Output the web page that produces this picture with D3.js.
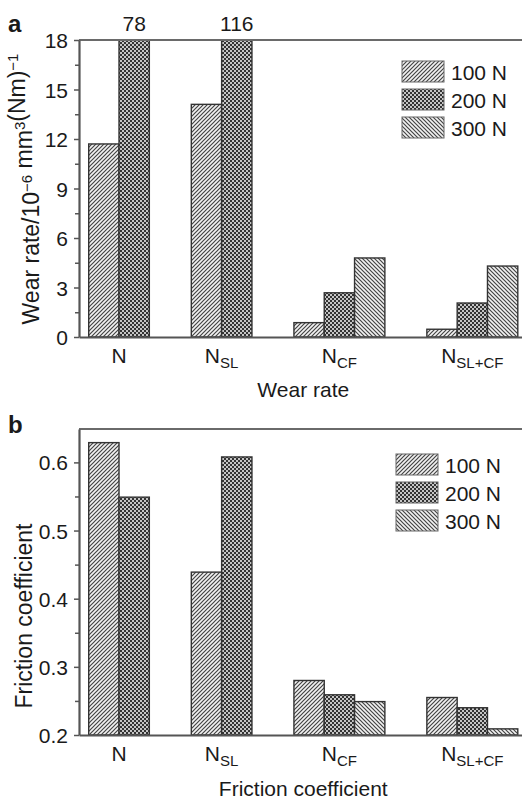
<!DOCTYPE html>
<html>
<head>
<meta charset="utf-8">
<script src="https://cdn.jsdelivr.net/npm/d3@7"></script>
<style>
  body { margin: 0; background: #fff; }
  svg { display: block; }
  text { font-family: "Liberation Sans", Arial, Helvetica, sans-serif; fill: #1a1a1a; }
</style>
</head>
<body>
<div id="chart"></div>
<script>
// categories (main letter + subscript)
var catMain = ["N", "N", "N", "N"];
var catSub = ["", "SL", "CF", "SL+CF"];
var seriesNames = ["100 N", "200 N", "300 N"];

// wear rate, 10^-6 mm3 (Nm)^-1  (null = no bar)
var wear100 = [11.7, 14.1, 0.87, 0.47];
var wear200 = [78, 116, 2.68, 2.06];
var wear300 = [null, null, 4.79, 4.3];

// friction coefficient
var fric100 = [0.629, 0.439, 0.28, 0.255];
var fric200 = [0.549, 0.608, 0.259, 0.24];
var fric300 = [null, null, 0.249, 0.209];

var wearTicks = [0, 3, 6, 9, 12, 15, 18];
var fricTicks = [0.2, 0.3, 0.4, 0.5, 0.6];

var W = 522, H = 802;
var svg = d3.select("#chart").append("svg")
    .attr("width", W)
    .attr("height", H);

// patterns
var defs = svg.append("defs");
var p1 = defs.append("pattern").attr("id", "pat0")
    .attr("patternUnits", "userSpaceOnUse").attr("width", 4).attr("height", 4);
p1.append("rect").attr("width", 4).attr("height", 4).attr("fill", "#f2f2f2");
p1.append("path").attr("d", "M-1,1 L1,-1 M0,4 L4,0 M3,5 L5,3")
    .attr("stroke", "#444").attr("stroke-width", 1.2);

var p2 = defs.append("pattern").attr("id", "pat1")
    .attr("patternUnits", "userSpaceOnUse").attr("width", 4).attr("height", 4);
p2.append("rect").attr("width", 4).attr("height", 4).attr("fill", "#333");
p2.append("rect").attr("x", 0.1).attr("y", 0.1).attr("width", 1.8).attr("height", 1.8).attr("fill", "#e8e8e8");
p2.append("rect").attr("x", 2.1).attr("y", 2.1).attr("width", 1.8).attr("height", 1.8).attr("fill", "#e8e8e8");

var p3 = defs.append("pattern").attr("id", "pat2")
    .attr("patternUnits", "userSpaceOnUse").attr("width", 4).attr("height", 4);
p3.append("rect").attr("width", 4).attr("height", 4).attr("fill", "#f2f2f2");
p3.append("path").attr("d", "M-1,3 L1,5 M0,0 L4,4 M3,-1 L5,1")
    .attr("stroke", "#444").attr("stroke-width", 1.2);

// x layout: groups of bars with a fixed gap, only bars with data take a slot
var leftPad = 0.32, gapU = 1.385;
var counts = catMain.map(function (c, i) {
    return [wear100[i], wear200[i], wear300[i]].filter(function (v) { return v != null; }).length;
});
var groupStart = [];
var u = leftPad;
counts.forEach(function (n, i) {
    groupStart.push(u);
    u += n + (i < counts.length - 1 ? gapU : 0);
});
var totalU = u + leftPad;

var plotLeft = 79, plotRight = 527.5;
var x = d3.scaleLinear().domain([0, totalU]).range([plotLeft, plotRight]);

function drawPanel(opt) {
    var g = svg.append("g");
    var y = d3.scaleLinear().domain(opt.domain).range([opt.bottom, opt.top]);
    var series = opt.series;

    // bars
    series.forEach(function (vals, s) {
        g.selectAll(null)
            .data(vals.map(function (v, i) { return {v: v, i: i}; })
                .filter(function (d) { return d.v != null; }))
            .enter().append("rect")
            .attr("x", function (d) { return x(groupStart[d.i] + s); })
            .attr("width", x(1) - x(0))
            .attr("y", function (d) { return y(Math.min(d.v, opt.domain[1])); })
            .attr("height", function (d) { return y(opt.domain[0]) - y(Math.min(d.v, opt.domain[1])); })
            .attr("fill", "url(#pat" + s + ")")
            .attr("stroke", "#333")
            .attr("stroke-width", 1.4);
    });

    // clipped values shown on top
    series.forEach(function (vals, s) {
        vals.forEach(function (v, i) {
            if (v != null && v > opt.domain[1]) {
                g.append("text")
                    .attr("x", x(groupStart[i] + s + 0.5))
                    .attr("y", opt.top - 9)
                    .attr("text-anchor", "middle")
                    .attr("font-size", 21)
                    .text(v);
            }
        });
    });

    // top frame line
    g.append("line")
        .attr("x1", plotLeft).attr("x2", plotRight)
        .attr("y1", opt.top).attr("y2", opt.top)
        .attr("stroke", "#6a6a6a").attr("stroke-width", 2);

    // minor ticks
    var minor = [];
    for (var k = 0; k < opt.ticks.length - 1; k++) minor.push((opt.ticks[k] + opt.ticks[k + 1]) / 2);
    g.append("g")
        .attr("transform", "translate(" + plotLeft + ",0)")
        .call(d3.axisLeft(y).tickValues(minor).tickSize(4).tickSizeOuter(0).tickFormat(""))
        .call(function (a) { a.select(".domain").remove(); a.selectAll("line").attr("stroke", "#555").attr("stroke-width", 1.5); });

    // y axis
    var yAxis = g.append("g")
        .attr("transform", "translate(" + plotLeft + ",0)")
        .call(d3.axisLeft(y).tickValues(opt.ticks).tickSize(5).tickSizeOuter(0).tickPadding(6)
            .tickFormat(opt.fmt));
    yAxis.select(".domain").attr("stroke", "#555").attr("stroke-width", 2.2);
    yAxis.selectAll(".tick line").attr("stroke", "#555").attr("stroke-width", 1.5);
    yAxis.selectAll(".tick text")
        .attr("font-size", 21)
        .attr("font-family", "Liberation Sans, Arial, sans-serif")
        .attr("fill", "#1a1a1a")
        .attr("dy", "0.36em");

    // x axis line
    var xAxis = g.append("g")
        .attr("transform", "translate(0," + opt.bottom + ")")
        .call(d3.axisBottom(x).tickValues([]).tickSizeOuter(0));
    xAxis.select(".domain").attr("stroke", "#555").attr("stroke-width", 2.2);

    // category labels
    catMain.forEach(function (c, i) {
        var t = g.append("text")
            .attr("x", x(groupStart[i] + counts[i] / 2))
            .attr("y", opt.bottom + 26)
            .attr("text-anchor", "middle")
            .attr("font-size", 21);
        t.append("tspan").text(c);
        if (catSub[i]) {
            t.append("tspan").attr("dy", 5).attr("font-size", 15).text(catSub[i]);
        }
    });

    // x title
    g.append("text")
        .attr("x", (plotLeft + plotRight) / 2)
        .attr("y", opt.xTitleY)
        .attr("text-anchor", "middle")
        .attr("font-size", 21)
        .text(opt.xTitle);

    // y title
    var yt = g.append("text")
        .attr("transform", "translate(" + opt.yTitleX + "," + opt.yTitleY + ") rotate(-90)")
        .attr("text-anchor", "middle")
        .attr("font-size", 23);
    opt.yTitle.forEach(function (part) {
        if (part.sup) {
            yt.append("tspan").attr("dy", -7).attr("font-size", 15).text(part.t);
            yt.append("tspan").attr("dy", 7).text("");
        } else {
            yt.append("tspan").text(part.t);
        }
    });

    // panel letter
    g.append("text")
        .attr("x", 8)
        .attr("y", opt.letterY)
        .attr("font-size", 24)
        .attr("font-weight", "bold")
        .text(opt.letter);

    // legend
    var leg = g.append("g");
    seriesNames.forEach(function (name, s) {
        leg.append("rect")
            .attr("x", opt.legX)
            .attr("y", opt.legY + s * 28)
            .attr("width", 42).attr("height", 21)
            .attr("fill", "url(#pat" + s + ")")
            .attr("stroke", "#666").attr("stroke-width", 1);
        leg.append("text")
            .attr("x", opt.legX + 49)
            .attr("y", opt.legY + s * 28 + 19)
            .attr("font-size", 21)
            .text(name);
    });
}

drawPanel({
    top: 40, bottom: 337,
    domain: [0, 18],
    ticks: wearTicks,
    fmt: d3.format("d"),
    series: [wear100, wear200, wear300],
    xTitle: "Wear rate", xTitleY: 397,
    yTitle: [{t: "Wear rate/10"}, {t: "\u22126", sup: true}, {t: " mm"}, {t: "3", sup: true},
             {t: "(Nm)"}, {t: "\u22121", sup: true}],
    yTitleX: 39, yTitleY: 189,
    letter: "a", letterY: 32,
    legX: 402, legY: 61
});

drawPanel({
    top: 429, bottom: 735,
    domain: [0.2, 0.649],
    ticks: fricTicks,
    fmt: d3.format(".1f"),
    series: [fric100, fric200, fric300],
    xTitle: "Friction coefficient", xTitleY: 796,
    yTitle: [{t: "Friction coefficient"}],
    yTitleX: 32, yTitleY: 616,
    letter: "b", letterY: 433,
    legX: 396, legY: 454
});
</script>
</body>
</html>
